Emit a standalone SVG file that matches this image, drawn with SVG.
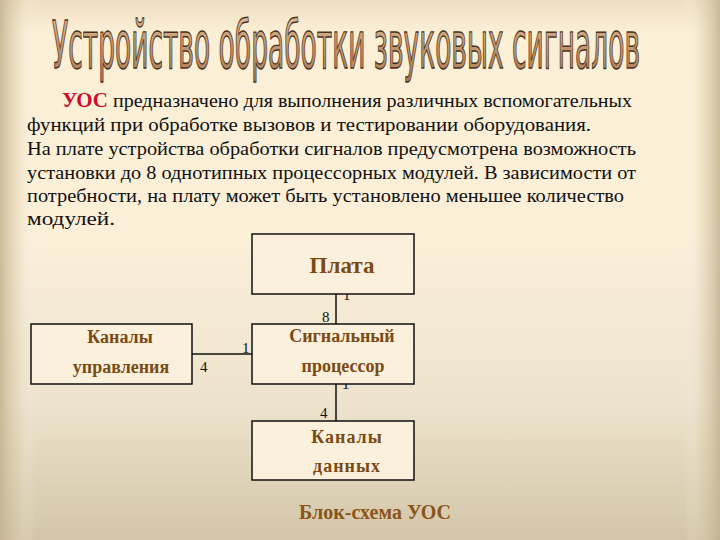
<svg xmlns="http://www.w3.org/2000/svg" width="720" height="540" viewBox="0 0 720 540">
<defs>
<linearGradient id="bgv" x1="0" y1="0" x2="0" y2="1">
<stop offset="0" stop-color="#EEDFC3"/>
<stop offset="0.06" stop-color="#FBEFD6"/>
<stop offset="0.45" stop-color="#FBEFD8"/>
<stop offset="0.75" stop-color="#EDE3CC"/>
<stop offset="1" stop-color="#D3C5A8"/>
</linearGradient>
<linearGradient id="bgh" x1="0" y1="0" x2="1" y2="0">
<stop offset="0" stop-color="#BFAE8C" stop-opacity="0.8"/>
<stop offset="0.025" stop-color="#D8C8A8" stop-opacity="0.35"/>
<stop offset="0.05" stop-color="#FFFFFF" stop-opacity="0"/>
<stop offset="0.95" stop-color="#FFFFFF" stop-opacity="0"/>
<stop offset="0.975" stop-color="#D8C8A8" stop-opacity="0.35"/>
<stop offset="1" stop-color="#BFAE8C" stop-opacity="0.8"/>
</linearGradient>
<linearGradient id="titleFill" x1="0" y1="0" x2="0" y2="1">
<stop offset="0" stop-color="#E2C4A2"/>
<stop offset="0.5" stop-color="#C49A72"/>
<stop offset="1" stop-color="#A87A52"/>
</linearGradient>
<style>
.para{font-family:'Liberation Serif','Times New Roman',serif;font-size:19px;fill:#111}
.box{fill:#FAF0DC;stroke:#111;stroke-width:1.5}
.lbl{font-family:'Liberation Serif','Times New Roman',serif;font-weight:bold;fill:#7A4A14;text-anchor:middle}
.num{font-family:'Liberation Serif','Times New Roman',serif;font-size:15px;fill:#111}
.conn{stroke:#111;stroke-width:1.5;fill:none}
</style>
</defs>
<rect x="0" y="0" width="720" height="540" fill="url(#bgv)"/>
<rect x="0" y="0" width="720" height="540" fill="url(#bgh)"/>

<text transform="translate(52,68) scale(1,2.2)" x="0" y="0" font-family="'Liberation Sans Narrow','DejaVu Sans Condensed','Liberation Sans',sans-serif" font-size="30" fill="url(#titleFill)" stroke="#4A3222" stroke-width="1.1" vector-effect="non-scaling-stroke" textLength="588" lengthAdjust="spacingAndGlyphs">Устройство обработки звуковых сигналов</text>

<g id="paragraph">
<text x="62" y="107" font-family="'Liberation Serif','Times New Roman',serif" font-size="20" font-weight="bold" fill="#C8102E" textLength="46" lengthAdjust="spacingAndGlyphs">УОС</text>
<text class="para" x="113" y="107" textLength="519" lengthAdjust="spacingAndGlyphs">предназначено для выполнения различных вспомогательных</text>
<text class="para" x="27" y="131" textLength="564" lengthAdjust="spacingAndGlyphs">функций при обработке вызовов и тестировании оборудования.</text>
<text class="para" x="27" y="155" textLength="609" lengthAdjust="spacingAndGlyphs">На плате устройства обработки сигналов предусмотрена возможность</text>
<text class="para" x="27" y="179" textLength="609" lengthAdjust="spacingAndGlyphs">установки до 8 однотипных процессорных модулей. В зависимости от</text>
<text class="para" x="27" y="202" textLength="597" lengthAdjust="spacingAndGlyphs">потребности, на плату может быть установлено меньшее количество</text>
<text class="para" x="27" y="225" textLength="88" lengthAdjust="spacingAndGlyphs">модулей.</text>
</g>

<g id="connectors">
<line class="conn" x1="336" y1="294" x2="336" y2="324"/>
<line class="conn" x1="192" y1="354" x2="252" y2="354"/>
<line class="conn" x1="336" y1="384" x2="336" y2="421"/>
<text class="num" x="343" y="300">1</text>
<text class="num" x="322" y="322">8</text>
<text class="num" x="242" y="353">1</text>
<text class="num" x="200" y="372">4</text>
<text class="num" x="342" y="389">1</text>
<text class="num" x="320" y="418">4</text>
</g>

<g id="plata">
<rect class="box" x="252" y="234" width="162" height="60"/>
<text class="lbl" x="342" y="273" font-size="23">Плата</text>
</g>

<g id="processor">
<rect class="box" x="252" y="324" width="162" height="60"/>
<text class="lbl" x="342" y="342" font-size="18">Сигнальный</text>
<text class="lbl" x="343" y="372" font-size="18">процессор</text>
</g>

<g id="control">
<rect class="box" x="31" y="324" width="161" height="60"/>
<text class="lbl" x="120" y="343" font-size="18">Каналы</text>
<text class="lbl" x="121" y="373" font-size="18">управления</text>
</g>

<g id="data">
<rect class="box" x="252" y="421" width="162" height="59"/>
<text class="lbl" x="347" y="443" font-size="18" letter-spacing="1">Каналы</text>
<text class="lbl" x="347" y="472" font-size="18" letter-spacing="1">данных</text>
</g>

<text x="375" y="519" font-family="'Liberation Serif','Times New Roman',serif" font-size="20" font-weight="bold" fill="#8A5518" text-anchor="middle">Блок-схема УОС</text>
</svg>
